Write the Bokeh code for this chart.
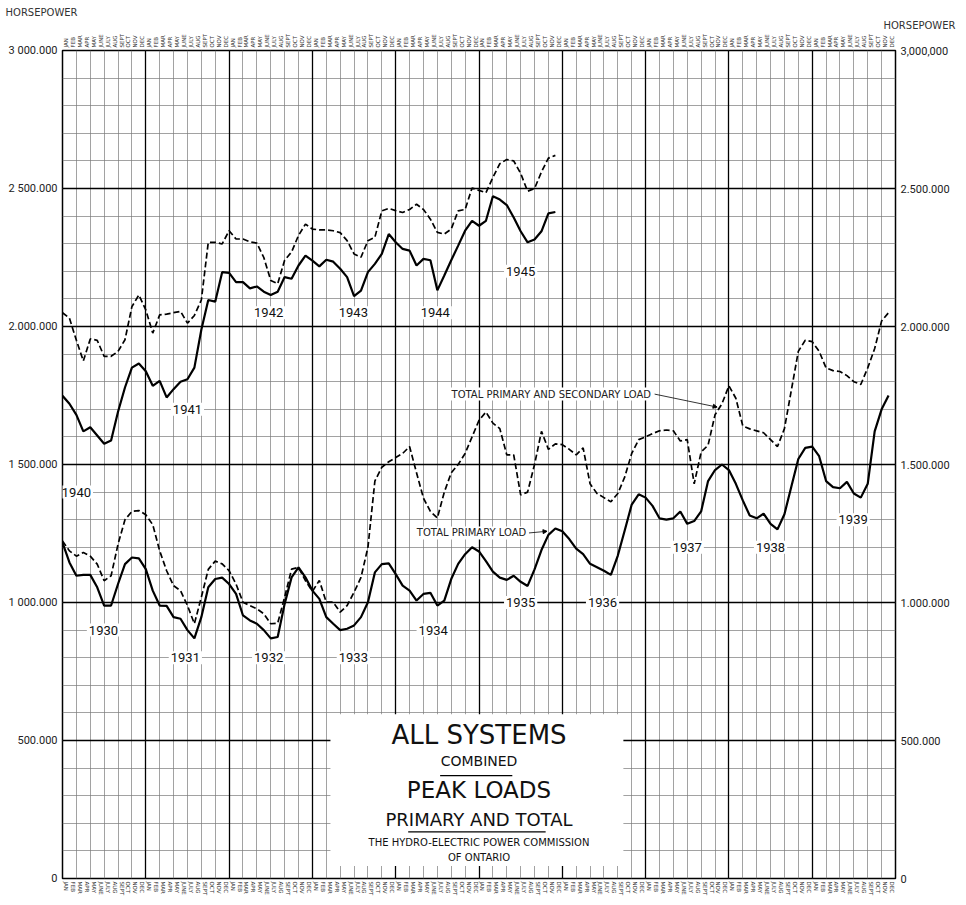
import numpy as np
from bokeh.plotting import figure
from bokeh.models import (FixedTicker, LinearAxis, Grid, Label, BoxAnnotation,
                          Range1d, Arrow, NormalHead, Title)
from bokeh.embed import file_html
from bokeh.resources import INLINE

# ---------------- data ----------------
MONTHS = ["JAN", "FEB", "MAR", "APR", "MAY", "JUNE", "JULY", "AUG", "SEPT", "OCT", "NOV", "DEC"]

# Peak loads, thousands of horsepower, monthly Jan 1930 - Dec 1939
primary_1930_39 = [
    1217, 1145, 1097, 1100, 1100, 1055, 989, 989, 1067, 1139, 1163, 1160,   # 1930
    1121, 1043, 989, 988, 947, 941, 900, 870, 947, 1055, 1085, 1090,        # 1931
    1067, 1031, 953, 935, 923, 900, 870, 875, 995, 1091, 1127, 1091,        # 1932
    1043, 1013, 947, 923, 900, 905, 917, 947, 1001, 1109, 1139, 1142,       # 1933
    1103, 1061, 1043, 1007, 1031, 1035, 989, 1007, 1085, 1140, 1175, 1200,  # 1934
    1185, 1150, 1112, 1090, 1082, 1097, 1075, 1060, 1120, 1190, 1245, 1268, # 1935
    1258, 1230, 1195, 1175, 1140, 1128, 1115, 1100, 1170, 1262, 1355, 1392, # 1936
    1380, 1350, 1305, 1300, 1305, 1330, 1285, 1295, 1330, 1440, 1480, 1500, # 1937
    1480, 1430, 1370, 1315, 1305, 1322, 1285, 1265, 1320, 1420, 1520, 1560, # 1938
    1565, 1530, 1440, 1418, 1414, 1437, 1395, 1380, 1430, 1620, 1700, 1750, # 1939
]
total_1930_39 = [
    1223, 1187, 1168, 1181, 1168, 1139, 1079, 1097, 1211, 1300, 1330, 1333,
    1318, 1282, 1187, 1115, 1061, 1043, 989, 923, 1019, 1120, 1150, 1140,
    1115, 1067, 1001, 989, 977, 959, 923, 925, 1019, 1121, 1127, 1079,
    1040, 1080, 1001, 1001, 965, 989, 1037, 1091, 1200, 1440, 1490, 1510,
    1525, 1540, 1565, 1470, 1378, 1330, 1306, 1400, 1470, 1500, 1540, 1600,
    1660, 1690, 1650, 1630, 1535, 1535, 1390, 1400, 1500, 1620, 1555, 1575,
    1572, 1555, 1535, 1560, 1430, 1395, 1380, 1365, 1395, 1455, 1540, 1590,
    1600, 1612, 1622, 1625, 1622, 1585, 1590, 1430, 1545, 1570, 1680, 1720,
    1785, 1740, 1640, 1629, 1622, 1615, 1590, 1565, 1630, 1770, 1910, 1950,
    1945, 1910, 1850, 1840, 1837, 1822, 1800, 1790, 1850, 1920, 2020, 2050,
]
# monthly Jan 1940 - Dec 1945
primary_1940_45 = [
    1749, 1720, 1680, 1620, 1635, 1605, 1575, 1587, 1691, 1779, 1851, 1866,
    1838, 1785, 1803, 1743, 1773, 1800, 1809, 1851, 1988, 2096, 2090, 2197,
    2194, 2161, 2161, 2138, 2145, 2126, 2114, 2126, 2179, 2173, 2221, 2257,
    2239, 2218, 2242, 2235, 2209, 2179, 2110, 2130, 2197, 2227, 2263, 2335,
    2305, 2281, 2275, 2221, 2245, 2240, 2131, 2185, 2240, 2293, 2347, 2383,
    2365, 2383, 2472, 2460, 2440, 2395, 2345, 2305, 2315, 2345, 2410, 2415,
]
total_1940_45 = [
    2050, 2030, 1950, 1875, 1955, 1950, 1892, 1892, 1910, 1952, 2072, 2114,
    2060, 1976, 2042, 2045, 2050, 2055, 2012, 2040, 2096, 2305, 2305, 2299,
    2347, 2317, 2317, 2307, 2302, 2250, 2167, 2155, 2240, 2270, 2330, 2371,
    2353, 2350, 2350, 2347, 2340, 2311, 2263, 2251, 2311, 2323, 2419, 2428,
    2420, 2413, 2424, 2443, 2424, 2389, 2341, 2335, 2353, 2419, 2424, 2502,
    2493, 2485, 2540, 2590, 2605, 2600, 2555, 2490, 2500, 2560, 2610, 2620,
]

y_ticks = [0, 500000, 1000000, 1500000, 2000000, 2500000, 3000000]
left_tick_labels = ["0", "500.000", "1 000.000", "1 500.000", "2.000.000", "2 500.000", "3 000.000"]
right_tick_labels = ["0", "500.000", "1.000.000", "1.500.000", "2.000.000", "2.500.000", "3,000,000"]

year_label_text = ["1930", "1931", "1932", "1933", "1934", "1935", "1936", "1937", "1938", "1939",
                   "1940", "1941", "1942", "1943", "1944", "1945"]
year_label_month = [5.9, 17.7, 29.7, 41.9, 53.4, 66.0, 77.8, 90.0, 102.0, 113.9,
                    2.0, 18.0, 29.7, 41.9, 53.7, 66.0]
year_label_value = [900000, 800000, 800000, 800000, 900000, 1000000, 1000000, 1200000, 1200000, 1300000,
                    1400000, 1700000, 2050000, 2050000, 2050000, 2200000]

# ---------------- figure ----------------
p = figure(width=966, height=905, x_range=Range1d(0, 120), y_range=Range1d(0, 3000000),
           output_backend="svg", toolbar_location=None,
           x_axis_location=None, y_axis_location=None,
           min_border_left=62, min_border_right=71, min_border_top=50, min_border_bottom=27)
p.grid.visible = False
p.outline_line_color = "black"
p.outline_line_width = 1.5
p.background_fill_color = "white"
p.border_fill_color = "white"

# month axes (top and bottom) -- added first so they sit next to the frame
month_ticks = [i + 0.5 for i in range(120)]
month_over = {i + 0.5: MONTHS[i % 12] for i in range(120)}
for loc in ["above", "below"]:
    ax = LinearAxis(ticker=FixedTicker(ticks=month_ticks), major_label_overrides=month_over,
                    major_label_orientation="vertical", major_label_text_font_size="5.5px",
                    major_label_text_font="DejaVu Sans", major_label_text_color="#333333",
                    major_tick_line_color=None, minor_tick_line_color=None,
                    major_tick_out=0, major_tick_in=0,
                    axis_line_color=None, major_label_standoff=3)
    p.add_layout(ax, loc)

# HORSEPOWER captions (titles, outside the frame)
p.title.text = "HORSEPOWER"
p.title.align = "left"
p.title.offset = -57
p.title.standoff = 0
p.title.text_font = "DejaVu Sans"
p.title.text_font_size = "10px"
p.title.text_font_style = "normal"
p.title.text_color = "#333333"
p.add_layout(Title(text="HORSEPOWER", align="right", offset=-60, standoff=0,
                   text_font="DejaVu Sans", text_font_size="10px", text_font_style="normal",
                   text_color="#333333"), "above")

# horsepower axes
for loc, labs in [("left", left_tick_labels), ("right", right_tick_labels)]:
    ax = LinearAxis(ticker=FixedTicker(ticks=y_ticks), major_label_overrides=dict(zip(y_ticks, labs)),
                    major_label_text_font_size="11px", major_label_text_font="Roboto",
                    major_label_text_color="#222222",
                    major_tick_line_color=None, minor_tick_line_color=None,
                    major_tick_out=0, major_tick_in=0,
                    axis_line_color=None, major_label_standoff=5)
    p.add_layout(ax, loc)

# grid
p.add_layout(Grid(dimension=0, ticker=FixedTicker(ticks=list(range(0, 121, 2))),
                  grid_line_color="#7a7a7a", grid_line_width=0.7))
p.add_layout(Grid(dimension=1, ticker=FixedTicker(ticks=list(range(0, 3000001, 100000))),
                  grid_line_color="#7a7a7a", grid_line_width=0.7))
p.add_layout(Grid(dimension=0, ticker=FixedTicker(ticks=list(range(0, 121, 12))),
                  grid_line_color="black", grid_line_width=1.3))
p.add_layout(Grid(dimension=1, ticker=FixedTicker(ticks=y_ticks),
                  grid_line_color="black", grid_line_width=1.6))

# white title panel (covers grid)
p.add_layout(BoxAnnotation(left=38.6, right=80.8, bottom=45000, top=595000,
                           fill_color="white", fill_alpha=1.0, line_color=None, level="underlay"))

# data lines
hp = 1000
p.line(np.arange(len(primary_1930_39)), np.array(primary_1930_39) * hp, line_color="black", line_width=2.2)
p.line(np.arange(len(total_1930_39)), np.array(total_1930_39) * hp, line_color="black", line_width=1.7,
       line_dash="6 3")
p.line(np.arange(len(primary_1940_45)), np.array(primary_1940_45) * hp, line_color="black", line_width=2.2)
p.line(np.arange(len(total_1940_45)), np.array(total_1940_45) * hp, line_color="black", line_width=1.7,
       line_dash="6 3")

# title rules
p.segment(x0=[54.4, 49.8], y0=[373000, 169000], x1=[64.8, 69.6], y1=[373000, 169000],
          line_color="black", line_width=1.2)

# year labels
for t, mx, vy in zip(year_label_text, year_label_month, year_label_value):
    p.add_layout(Label(x=mx, y=vy, text=t, text_align="center", text_baseline="middle",
                       text_font="Roboto", text_font_size="13px", text_color="#111111",
                       background_fill_color="white", padding=2))

# series annotations
p.add_layout(Label(x=55.9, y=1755000, text="TOTAL PRIMARY AND SECONDARY LOAD", text_align="left",
                   text_baseline="middle", text_font="DejaVu Sans", text_font_size="10px",
                   text_color="#222222", background_fill_color="white", padding=1))
p.add_layout(Arrow(x_start=85.3, y_start=1755000, x_end=94.3, y_end=1708000,
                   end=NormalHead(size=4, fill_color="black", line_color="black"),
                   line_color="black", line_width=0.8))
p.add_layout(Label(x=50.9, y=1252000, text="TOTAL PRIMARY LOAD", text_align="left",
                   text_baseline="middle", text_font="DejaVu Sans", text_font_size="10px",
                   text_color="#222222", background_fill_color="white", padding=1))
p.add_layout(Arrow(x_start=67.2, y_start=1252000, x_end=69.8, y_end=1258000,
                   end=NormalHead(size=4, fill_color="black", line_color="black"),
                   line_color="black", line_width=0.8))

# title block
title_lines = [
    ("ALL SYSTEMS", 520000, "26px"),
    ("COMBINED", 427000, "14px"),
    ("PEAK LOADS", 319000, "23px"),
    ("PRIMARY AND TOTAL", 215000, "18px"),
    ("THE HYDRO-ELECTRIC POWER COMMISSION", 129000, "10px"),
    ("OF ONTARIO", 75000, "10px"),
]
for t, vy, fs in title_lines:
    p.add_layout(Label(x=60, y=vy, text=t, text_align="center", text_baseline="middle",
                       text_font="DejaVu Sans", text_font_size=fs, text_color="#111111"))

open("out.html", "w").write(file_html(p, INLINE))
